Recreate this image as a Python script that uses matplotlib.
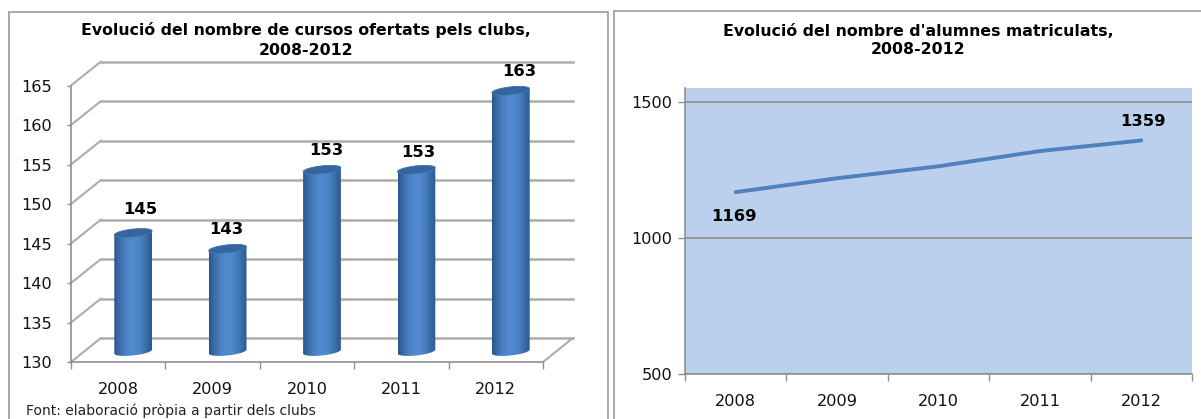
import numpy as np
import matplotlib
matplotlib.use("Agg")
import matplotlib.pyplot as plt
from matplotlib.colors import LinearSegmentedColormap
from matplotlib.patches import PathPatch, Polygon, Rectangle
from matplotlib.path import Path
from matplotlib.transforms import Affine2D

years = ["2008", "2009", "2010", "2011", "2012"]
cursos = [145, 143, 153, 153, 163]
cursos_ticks = [130, 135, 140, 145, 150, 155, 160, 165]
alumnes = [1169, 1220, 1264, 1320, 1359]
alumnes_ticks = [500, 1000, 1500]
title_left = "Evolució del nombre de cursos ofertats pels clubs,\n2008-2012"
title_right = "Evolució del nombre d'alumnes matriculats,\n2008-2012"
source = "Font: elaboració pròpia a partir dels clubs"

W, H = 1201, 419
GRID = "#adadad"
AXIS = "#8f8f8f"
TEXT = "#111111"

fig = plt.figure(figsize=(W / 100, H / 100), dpi=100, facecolor="white")


def px_axes(x0, x1, ytop, ybottom):
    return fig.add_axes([x0 / W, (H - ybottom) / H, (x1 - x0) / W, (ybottom - ytop) / H])


# panel frames
for x0, x1, y0 in [(8.5, 608, 12), (614, 1210, 11)]:
    fig.add_artist(Rectangle((x0 / W, -0.05), (x1 - x0) / W, (H - y0) / H + 0.05,
                             transform=fig.transFigure, fill=False, ec="#a3a3a3", lw=1.3))


def style_xaxis(ax):
    ax.set_xlim(0, 5)
    ax.set_xticks(range(6))
    ax.set_xticklabels([])
    ax.set_xticks(np.arange(5) + 0.5, years, minor=True)
    ax.tick_params(axis="x", which="major", length=5, width=1, color=AXIS)
    ax.tick_params(axis="x", which="minor", length=0, pad=14.5, labelsize=11.6, labelcolor=TEXT)
    ax.tick_params(axis="y", length=3, width=1, color=AXIS, labelsize=11.6, labelcolor=TEXT)
    for s in ax.spines.values():
        s.set_visible(False)
    for s in ("left", "bottom"):
        ax.spines[s].set_visible(True)
        ax.spines[s].set_color(AXIS)
        ax.spines[s].set_linewidth(1.2)


# left chart, fake 3d column
ax = px_axes(71, 543, 85.5, 362)
style_xaxis(ax)
ax.set_ylim(130, 165)
ax.set_yticks(cursos_ticks)
ax.tick_params(axis="y", pad=11)

back = ax.transData + Affine2D().translate(30, 24)
mid = ax.transData + Affine2D().translate(15, 10.5)

for v in cursos_ticks:
    ax.plot([0, 5], [v, v], color=GRID, lw=1.8, transform=back, clip_on=False, zorder=1)
    ax.annotate("", xy=(0, v), xytext=(30, 24), textcoords="offset pixels",
                arrowprops=dict(arrowstyle="-", color=GRID, lw=1.5, shrinkA=0, shrinkB=0),
                annotation_clip=False, zorder=1)
ax.annotate("", xy=(5, 130), xytext=(30, 24), textcoords="offset pixels",
            arrowprops=dict(arrowstyle="-", color=GRID, lw=1.5, shrinkA=0, shrinkB=0),
            annotation_clip=False, zorder=1)

shade = LinearSegmentedColormap.from_list(
    "cyl", ["#2b5788", "#3a6eab", "#4a80c2", "#5189cf", "#5189cf", "#4a80c0", "#3a6dab", "#2d5a8e"])
grad = np.linspace(0, 1, 64).reshape(1, -1)
half_w, ell_h, tilt = 0.2, 0.5, 0.25
label_dx = [7, -1, 4, 2, 8]
label_dy = [24, 19, 19, 17, 19]

for i, v in enumerate(cursos):
    cx = i + 0.5
    t = np.linspace(np.pi, 2 * np.pi, 40)
    ex = cx + half_w * np.cos(t)
    lower = 130 + ell_h * np.sin(t) + tilt * np.cos(t)
    t2 = t[::-1]
    upper = v + ell_h * np.sin(t2 - np.pi) + tilt * np.cos(t2)
    body = np.column_stack([np.r_[ex, cx + half_w * np.cos(t2)], np.r_[lower, upper]])
    clip = PathPatch(Path(np.vstack([body, body[0]])), transform=mid, fc="none", ec="none",
                     clip_on=False, zorder=3)
    ax.add_patch(clip)
    im = ax.imshow(grad, cmap=shade, aspect="auto", interpolation="bilinear",
                   extent=(cx - half_w, cx + half_w, 129, v + 1), transform=mid, zorder=3)
    im.set_clip_path(clip)

    t3 = np.linspace(0, 2 * np.pi, 60)
    cap = np.column_stack([cx + half_w * np.cos(t3), v + ell_h * np.sin(t3) + tilt * np.cos(t3)])
    ax.add_patch(Polygon(cap, closed=True, fc="#35659f", ec="#4678b4", lw=0.6, transform=mid,
                         clip_on=False, zorder=4))
    ax.annotate(str(v), xy=(cx, v), xycoords=mid, xytext=(label_dx[i], label_dy[i]),
                textcoords="offset pixels", ha="center", va="center", fontsize=11.8,
                fontweight="bold", color="black", zorder=5, annotation_clip=False)

ax.set_xlim(0, 5)
ax.set_ylim(130, 165)
ax.patch.set_alpha(0)

fig.text(306 / W, 1 - 40 / H, title_left, ha="center", va="center", fontsize=11.3,
         fontweight="bold", color="black", linespacing=1.4)
fig.text(26 / W, 1 - 410.5 / H, source, ha="left", va="center", fontsize=10, color="#222222")

# right chart, line
ax2 = px_axes(685, 1192, 88, 374)
style_xaxis(ax2)
ax2.set_facecolor("#bad0ed")
ax2.set_ylim(500, 1552)
ax2.set_yticks(alumnes_ticks)
ax2.tick_params(axis="y", length=5, pad=4)
ax2.grid(axis="y", color="#8d8d8d", lw=1.2)
ax2.set_axisbelow(True)
x2 = np.arange(5) + 0.5
ax2.plot(x2, alumnes, color="#4f81bd", lw=2.8, solid_capstyle="round")
ax2.annotate(str(alumnes[0]), xy=(x2[0], alumnes[0]), xytext=(-2, -24),
             textcoords="offset pixels", ha="center", va="center", fontsize=11.8,
             fontweight="bold", color="black")
ax2.annotate(str(alumnes[-1]), xy=(x2[-1], alumnes[-1]), xytext=(2, 19),
             textcoords="offset pixels", ha="center", va="center", fontsize=11.8,
             fontweight="bold", color="black")

fig.text(918.5 / W, 1 - 40.5 / H, title_right, ha="center", va="center", fontsize=11.3,
         fontweight="bold", color="black", linespacing=1.3)

fig.savefig("out.png", dpi=100, facecolor="white")
